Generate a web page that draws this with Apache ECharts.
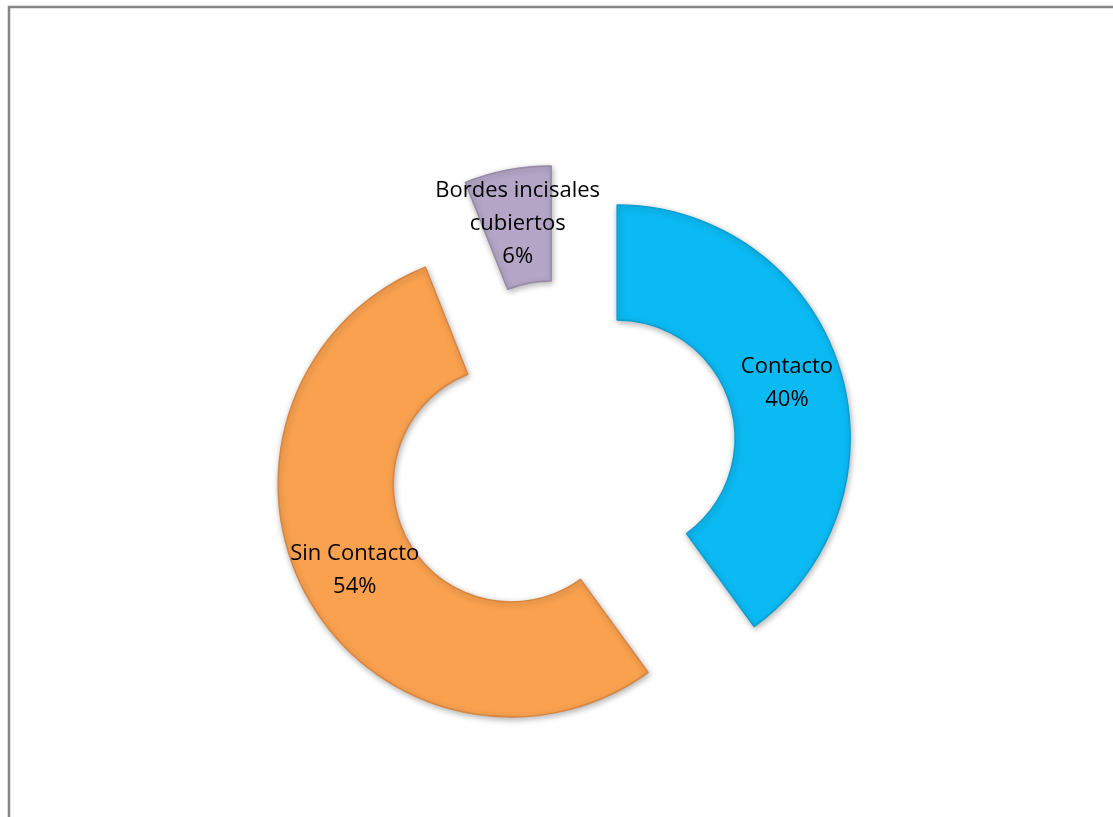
<!DOCTYPE html>
<html>
<head>
<meta charset="utf-8">
<script src="https://cdn.jsdelivr.net/npm/echarts@6/dist/echarts.min.js"></script>
<style>
  html, body { margin: 0; padding: 0; background: #fff; }
  #chart { width: 1113px; height: 817px; }
</style>
</head>
<body>
<div id="chart"></div>
<script>
// Categories, shares (%) and the text shown on each slice
const categories = ['Contacto', 'Sin Contacto', 'Bordes incisales cubiertos'];
const values = [40, 54, 6];
const labelNames = ['Contacto', 'Sin Contacto', 'Bordes incisales\ncubiertos'];
const colors = ['#0BBAF3', '#F9A14F', '#B5A6C7'];
const borderColors = ['#0A9ED0', '#D7843E', '#948AA6'];

const chart = echarts.init(document.getElementById('chart'), null, { renderer: 'canvas' });

const data = categories.map((name, i) => ({
  name: name,
  value: values[i],
  selected: true,
  label: {
    formatter: labelNames[i] + '\n{d}%'
  },
  itemStyle: {
    color: colors[i],
    borderColor: borderColors[i],
    borderWidth: 1.5
  }
}));

chart.setOption({
  animation: false,
  graphic: [{
    type: 'rect',
    shape: { x: 9, y: 7, width: 1140, height: 840 },
    style: { fill: 'none', stroke: '#858585', lineWidth: 2.5 },
    silent: true
  }],
  series: [{
    type: 'pie',
    center: [562, 456],
    radius: [118, 233],
    startAngle: 90,
    clockwise: true,
    selectedMode: 'multiple',
    selectedOffset: 58,
    avoidLabelOverlap: false,
    emphasis: { disabled: true },
    itemStyle: {
      shadowBlur: 6,
      shadowColor: 'rgba(0,0,0,0.3)',
      shadowOffsetX: 1,
      shadowOffsetY: 2
    },
    label: {
      show: true,
      position: 'inside',
      color: '#000',
      fontFamily: '"Open Sans", "Noto Sans", sans-serif',
      fontSize: 22,
      lineHeight: 33,
      align: 'center'
    },
    labelLine: { show: false },
    data: data
  }]
});
</script>
</body>
</html>
